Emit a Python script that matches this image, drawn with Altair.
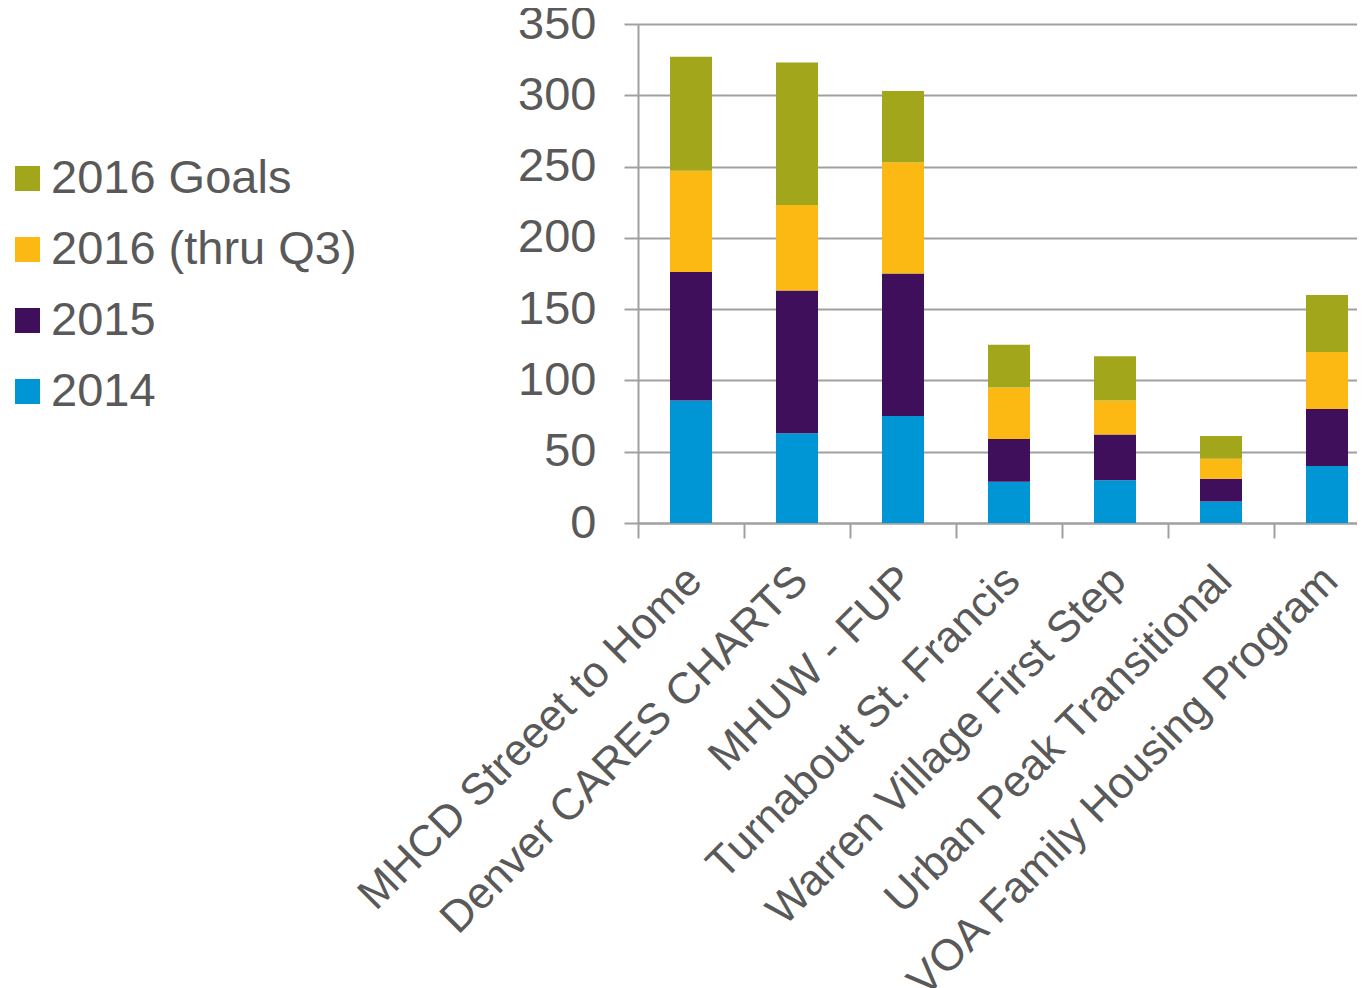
import altair as alt
import pandas as pd

programs = [
    "MHCD Streeet to Home",
    "Denver CARES CHARTS",
    "MHUW - FUP",
    "Turnabout St. Francis",
    "Warren Village First Step",
    "Urban Peak Transitional",
    "VOA Family Housing Program",
]
series = ["2014", "2015", "2016 (thru Q3)", "2016 Goals"]
v2014 = [86, 63, 75, 29, 30, 15, 40]
v2015 = [90, 100, 100, 30, 32, 16, 40]
v2016 = [71, 60, 78, 36, 24, 14, 40]
vgoals = [80, 100, 50, 30, 31, 16, 40]
colors = ["#0096D6", "#3F0F5B", "#FDB913", "#A2A61A"]
y_ticks = [0, 50, 100, 150, 200, 250, 300, 350]

rows = []
for i, p in enumerate(programs):
    for j, (s, vals) in enumerate(zip(series, [v2014, v2015, v2016, vgoals])):
        rows.append({"program": p, "series": s, "value": vals[i], "order": j})
df = pd.DataFrame(rows)

FONT = "Liberation Sans"
TXT = "#595959"
GRID = "#A0A0A0"

chart = alt.Chart(df).mark_bar(size=42).encode(
    x=alt.X(
        "program:N",
        sort=programs,
        title=None,
        scale=alt.Scale(paddingInner=0, paddingOuter=0, range=[0, 742]),
        axis=alt.Axis(
            labelAngle=-45,
            labelAlign="right",
            labelBaseline="top",
            labelFontSize=44,
            labelFont=FONT,
            labelColor=TXT,
            labelPadding=20,
            labelOffset=-12,
            labelLimit=1000,
            labelOverlap=False,
            tickBand="extent",
            tickSize=15,
            tickColor=GRID,
            tickWidth=2,
            domainColor=GRID,
            domainWidth=2,
            grid=False,
        ),
    ),
    y=alt.Y(
        "value:Q",
        stack="zero",
        title=None,
        scale=alt.Scale(domain=[0, 350], nice=False),
        axis=alt.Axis(
            values=y_ticks,
            labelFontSize=47,
            labelFont=FONT,
            labelColor=TXT,
            labelPadding=28,
            tickSize=14,
            tickColor=GRID,
            tickWidth=2,
            domainColor=GRID,
            domainWidth=2,
            gridColor=GRID,
            gridWidth=2,
        ),
    ),
    color=alt.Color(
        "series:N",
        sort=series,
        scale=alt.Scale(domain=series, range=colors),
        legend=alt.Legend(
            title=None,
            orient="none",
            legendX=-634,
            legendY=131,
            values=list(reversed(series)),
            symbolType="square",
            symbolSize=625,
            symbolStrokeWidth=0,
            labelFontSize=47,
            labelFont=FONT,
            labelColor=TXT,
            labelLimit=1000,
            rowPadding=23,
            labelOffset=0,
        ),
    ),
    order=alt.Order("order:Q", sort="ascending"),
).properties(
    width=719,
    height=499,
    padding={"left": 630, "top": 16, "right": 0, "bottom": 470},
    autosize=alt.AutoSizeParams(type="none"),
).configure_view(stroke=None).configure(background="white")

chart.save("out.html", embed_options={"renderer": "svg", "actions": False})
